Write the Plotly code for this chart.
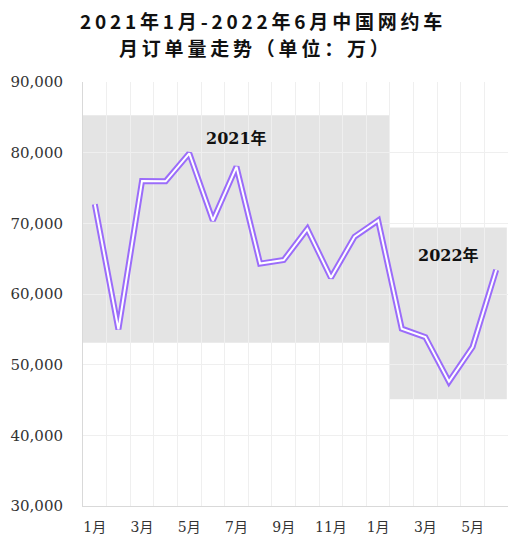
import plotly.graph_objects as go

# monthly orders (unit: 10k), Jan 2021 - Jun 2022
months = ['1月', '2月', '3月', '4月', '5月', '6月', '7月', '8月', '9月', '10月', '11月', '12月',
          '1月', '2月', '3月', '4月', '5月', '6月']
orders = [72700, 55000, 76000, 75950, 79900, 70400, 78000, 64300, 64800, 69200, 62300, 68100,
          70400, 55100, 53900, 47600, 52500, 63400]

# grey year blocks
year_labels = ['2021年', '2022年']
block_x0 = [-0.5, 12.5]
block_x1 = [12.5, 17.45]
block_y0 = [53100, 45100]
block_y1 = [85300, 69400]
label_x = [6, 15]
label_y = [82000, 65500]

purple = '#9b6cfa'
x = list(range(len(orders)))

fig = go.Figure()
fig.add_trace(go.Scatter(x=x, y=orders, mode='lines', line=dict(color=purple, width=6),
                         hoverinfo='skip'))
fig.add_trace(go.Scatter(x=x, y=orders, mode='lines', line=dict(color='white', width=2),
                         hoverinfo='skip'))

for i in range(len(year_labels)):
    fig.add_shape(type='rect', xref='x', yref='y', x0=block_x0[i], x1=block_x1[i],
                  y0=block_y0[i], y1=block_y1[i], fillcolor='rgba(0,0,0,0.105)',
                  line=dict(width=0), layer='below')
    fig.add_annotation(x=label_x[i], y=label_y[i], text='<b>' + year_labels[i] + '</b>',
                       showarrow=False,
                       font=dict(family='DejaVu Serif, Noto Sans CJK SC', size=16, color='#111'))

sp = '\u2009'
title_lines = ['2021年1月-2022年6月中国网约车', '月订单量走势（单位：万）']
title_x = [0.419, 0.402]
title_y = [1.145, 1.0825]
for i in range(2):
    fig.add_annotation(xref='paper', yref='paper', x=title_x[i], y=title_y[i],
                       xanchor='center', yanchor='middle', borderpad=0,
                       text='<b>' + sp.join(title_lines[i]) + '</b>', showarrow=False,
                       font=dict(family='Noto Sans CJK SC', size=19, color='#111'))

fig.update_layout(
    width=527, height=548,
    margin=dict(l=75, r=27, t=74, b=50),
    plot_bgcolor='white', paper_bgcolor='white',
    showlegend=False,
)
fig.update_xaxes(
    range=[-0.5, 17.5], tickvals=x[::2], ticktext=months[::2],
    showgrid=False, zeroline=False, automargin=False,
    showline=True, linecolor='#d9d9d9', linewidth=1,
    ticklabelstandoff=8,
    tickfont=dict(family='DejaVu Serif, Noto Sans CJK SC', size=14, color='#333'),
    minor=dict(tick0=-0.5, dtick=1, showgrid=True, gridcolor='#efefef', gridwidth=1),
)
fig.update_yaxes(
    range=[30000, 90000], dtick=10000, tickformat=',',
    showgrid=True, gridcolor='#efefef', zeroline=False, automargin=False,
    showline=True, linecolor='#d9d9d9', linewidth=1,
    ticklabelstandoff=16,
    tickfont=dict(family='DejaVu Serif', size=15, color='#333'),
)

fig.write_html("out.html")
